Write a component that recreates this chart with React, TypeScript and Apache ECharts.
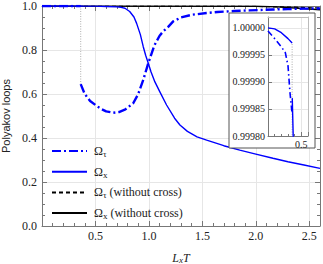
import React, { useEffect, useRef } from "react";
import * as echarts from "echarts";

// Ω_τ (with cross), high branch then low branch after the jump
const tauHighX = [0, 0.1, 0.2, 0.26, 0.3, 0.33, 0.362];
const tauHighY = [0.999994, 0.99998, 0.999965, 0.999954, 0.99993, 0.99988, 0.99984];
const tauLowX = [0.362, 0.4, 0.45, 0.5, 0.55, 0.6, 0.666, 0.72, 0.78, 0.853, 0.9, 0.947, 0.994, 1.05, 1.1, 1.134, 1.18, 1.227, 1.3, 1.4, 1.54, 1.64, 1.8, 1.94, 2.16, 2.3, 2.45, 2.6];
const tauLowY = [0.645, 0.6, 0.568, 0.55, 0.533, 0.521, 0.515, 0.518, 0.53, 0.558, 0.6, 0.664, 0.74, 0.82, 0.865, 0.885, 0.905, 0.93, 0.948, 0.96, 0.968, 0.973, 0.977, 0.98, 0.984, 0.986, 0.988, 0.989];

// Ω_x (with cross)
const xHighX = [0, 0.1, 0.2, 0.3, 0.362];
const xHighY = [1.0, 0.999998, 0.999991, 0.99998, 0.999972];
const xLowX = [0.364, 0.37, 0.378, 0.39, 0.5, 0.6, 0.7, 0.74, 0.776, 0.82, 0.86, 0.885, 0.92, 0.947, 0.97, 0.994, 1.02, 1.056, 1.1, 1.165, 1.24, 1.29, 1.36, 1.45, 1.54, 1.7, 1.85, 2.0, 2.16, 2.3, 2.45, 2.6];
const xLowY = [0.99987, 0.99984, 0.9998, 0.9996, 0.9993, 0.998, 0.996, 0.994, 0.99, 0.975, 0.95, 0.921, 0.87, 0.815, 0.775, 0.74, 0.7, 0.655, 0.612, 0.55, 0.49, 0.459, 0.43, 0.405, 0.39, 0.365, 0.345, 0.327, 0.308, 0.292, 0.277, 0.262];

// without cross
const tau0X = [0, 1.8, 2.0, 2.2, 2.4, 2.6];
const tau0Y = [1.0, 0.9995, 0.998, 0.996, 0.994, 0.991];
const x0X = [0, 2.0, 2.2, 2.4, 2.6];
const x0Y = [1.0, 0.999, 0.996, 0.99, 0.983];

// jump position
const jumpX = 0.362;
const jumpMainY = [0.99984, 0.645];
const jumpInsetY = [0.99997, 0.9997];

const legendNames = ["tau", "x", "tau0", "x0"];
const legendLabels: Record<string, string> = {
  tau: "{o|Ω}{s|τ}",
  x: "{o|Ω}{s|x}",
  tau0: "{o|Ω}{s|τ}{o| (without cross)}",
  x0: "{o|Ω}{s|x}{o| (without cross)}",
};

const zip = (xs: number[], ys: number[]) => xs.map((v, i) => [v, ys[i]]);

const SERIF = "Liberation Serif";
const BLUE = "#0000ff";

export default function App() {
  const ref = useRef<HTMLDivElement>(null);
  useEffect(() => {
    if (!ref.current) return;
    const chart = echarts.init(ref.current, undefined, { renderer: "svg" });
    const tauData: any[] = [...zip(tauHighX, tauHighY), [jumpX, "-"], ...zip(tauLowX, tauLowY)];
    const xData: any[] = [...zip(xHighX, xHighY), [jumpX, "-"], ...zip(xLowX, xLowY)];
    const frame = "#777";
    const labelStyle = { fontFamily: SERIF, fontSize: 12, color: "#222" };
    const insetLabel = { fontFamily: SERIF, fontSize: 10, color: "#222" };
    chart.setOption({
      animation: false,
      grid: [
        { left: 42, right: 3, top: 6, bottom: 38, outerBoundsMode: "none", containLabel: false },
        { left: 268, width: 40, top: 17, height: 119, outerBoundsMode: "none", containLabel: false },
      ],
      xAxis: [
        {
          type: "value", gridIndex: 0, min: 0, max: 2.6, interval: 0.5,
          axisLine: { show: true, onZero: false, lineStyle: { color: frame } },
          axisTick: { inside: true, length: 5, lineStyle: { color: frame } },
          minorTick: { show: true, splitNumber: 5, length: 3, lineStyle: { color: frame } },
          splitLine: { show: true, lineStyle: { color: "#e6e6e6" } },
          axisLabel: { ...labelStyle, margin: 4, showMaxLabel: false, formatter: (v: number) => (v === 0 ? "" : v.toFixed(1)) },
          name: "{i|L}{s|x}{i|T}", nameLocation: "middle", nameGap: 25,
          nameTextStyle: { rich: { i: { fontFamily: SERIF, fontStyle: "italic", fontSize: 12, color: "#222" }, s: { fontFamily: SERIF, fontStyle: "italic", fontSize: 9, color: "#222", padding: [4, 0, 0, 0] } } },
        },
        {
          type: "value", gridIndex: 0, position: "top", min: 0, max: 2.6, interval: 0.5,
          axisLine: { show: true, onZero: false, lineStyle: { color: frame } },
          axisTick: { inside: true, length: 5, lineStyle: { color: frame } },
          minorTick: { show: true, splitNumber: 5, length: 3, lineStyle: { color: frame } },
          splitLine: { show: false }, axisLabel: { show: false },
        },
        {
          type: "value", gridIndex: 1, min: 0, max: 0.6, interval: 0.5, z: 60,
          axisLine: { show: true, onZero: false, lineStyle: { color: frame } },
          axisTick: { inside: true, length: 4, lineStyle: { color: frame } },
          minorTick: { show: true, splitNumber: 5, length: 2, lineStyle: { color: frame } },
          splitLine: { show: true, lineStyle: { color: "#e6e6e6" } },
          axisLabel: { ...insetLabel, margin: 3, showMaxLabel: false, formatter: (v: number) => (v === 0 ? "" : v.toFixed(1)) },
        },
        {
          type: "value", gridIndex: 1, position: "top", min: 0, max: 0.6, interval: 0.5, z: 60,
          axisLine: { show: true, onZero: false, lineStyle: { color: "#bbb" } },
          axisTick: { show: false }, splitLine: { show: false }, axisLabel: { show: false },
        },
      ],
      yAxis: [
        {
          type: "value", gridIndex: 0, min: 0, max: 1, interval: 0.2,
          axisLine: { show: true, onZero: false, lineStyle: { color: frame } },
          axisTick: { inside: true, length: 5, lineStyle: { color: frame } },
          minorTick: { show: true, splitNumber: 4, length: 3, lineStyle: { color: frame } },
          splitLine: { show: true, lineStyle: { color: "#e6e6e6" } },
          axisLabel: { ...labelStyle, margin: 5, formatter: (v: number) => v.toFixed(1) },
          name: "Polyakov loops", nameLocation: "middle", nameGap: 29,
          nameTextStyle: { fontFamily: "Liberation Sans", fontSize: 11, color: "#222" },
        },
        {
          type: "value", gridIndex: 0, position: "right", min: 0, max: 1, interval: 0.2,
          axisLine: { show: true, onZero: false, lineStyle: { color: frame } },
          axisTick: { inside: true, length: 5, lineStyle: { color: frame } },
          minorTick: { show: true, splitNumber: 4, length: 3, lineStyle: { color: frame } },
          splitLine: { show: false }, axisLabel: { show: false },
        },
        {
          type: "value", gridIndex: 1, min: 0.9998, max: 1.00002, interval: 0.00005, z: 60,
          axisLine: { show: true, onZero: false, lineStyle: { color: frame } },
          axisTick: { inside: true, length: 4, lineStyle: { color: frame } },
          splitLine: { show: true, lineStyle: { color: "#e6e6e6" } },
          axisLabel: { ...insetLabel, margin: 3, showMaxLabel: false, formatter: (v: number) => v.toFixed(5) },
        },
        {
          type: "value", gridIndex: 1, position: "right", min: 0.9998, max: 1.00002, interval: 0.00005, z: 60,
          axisLine: { show: true, onZero: false, lineStyle: { color: "#bbb" } },
          axisTick: { show: false }, splitLine: { show: false }, axisLabel: { show: false },
        },
      ],
      legend: {
        data: legendNames,
        orient: "vertical",
        left: 46,
        top: 140,
        itemWidth: 35,
        itemHeight: 14,
        itemGap: 7.2,
        formatter: (n: string) => legendLabels[n],
        itemStyle: { color: "rgba(0,0,0,0)", borderColor: "rgba(0,0,0,0)", borderWidth: 0 },
        textStyle: {
          padding: [0, 0, 0, 2],
          rich: {
            o: { fontFamily: SERIF, fontSize: 12, color: "#222" },
            s: { fontFamily: SERIF, fontSize: 9, color: "#222", padding: [6, 0, 0, 0] },
          },
        },
      },
      graphic: [
        {
          type: "rect", z: 50,
          shape: { x: 229, y: 13, width: 86, height: 135 },
          style: { fill: "#fff", stroke: "#555", lineWidth: 1 },
        },
      ],
      series: [
        {
          name: "jump", type: "line", xAxisIndex: 0, yAxisIndex: 0, symbol: "none",
          data: jumpMainY.map((y) => [jumpX, y]),
          lineStyle: { color: "#999", width: 0.8, type: [1, 1.5] }, z: 1,
        },
        {
          name: "x0", type: "line", xAxisIndex: 0, yAxisIndex: 0, symbol: "none",
          data: zip(x0X, x0Y), lineStyle: { color: "#000", width: 1.4 }, itemStyle: { color: "#000" },
        },
        {
          name: "tau0", type: "line", xAxisIndex: 0, yAxisIndex: 0, symbol: "none",
          data: zip(tau0X, tau0Y), lineStyle: { color: "#000", width: 1.2, type: [4, 3] }, itemStyle: { color: "#000" },
        },
        {
          name: "x", type: "line", xAxisIndex: 0, yAxisIndex: 0, symbol: "none", connectNulls: false,
          data: xData, lineStyle: { color: BLUE, width: 1.4 }, itemStyle: { color: BLUE },
        },
        {
          name: "tau", type: "line", xAxisIndex: 0, yAxisIndex: 0, symbol: "none", connectNulls: false,
          data: tauData, lineStyle: { color: BLUE, width: 2.4, type: [9, 3, 2, 3] }, itemStyle: { color: BLUE },
        },
        {
          name: "jumpIn", type: "line", xAxisIndex: 2, yAxisIndex: 2, symbol: "none", z: 60,
          data: jumpInsetY.map((y) => [jumpX, y]),
          lineStyle: { color: "#999", width: 0.8, type: [1, 1.5] },
        },
        {
          name: "xIn", type: "line", xAxisIndex: 2, yAxisIndex: 2, symbol: "none", connectNulls: false, z: 61,
          data: xData, lineStyle: { color: BLUE, width: 1.4 }, itemStyle: { color: BLUE },
        },
        {
          name: "tauIn", type: "line", xAxisIndex: 2, yAxisIndex: 2, symbol: "none", connectNulls: false, z: 61,
          data: tauData, lineStyle: { color: BLUE, width: 1.6, type: [6, 3, 1.5, 3] }, itemStyle: { color: BLUE },
        },
      ],
    });
    return () => chart.dispose();
  }, []);
  return <div ref={ref} style={{ position: "absolute", left: 0, top: 0, width: 323, height: 264 }} />;
}
